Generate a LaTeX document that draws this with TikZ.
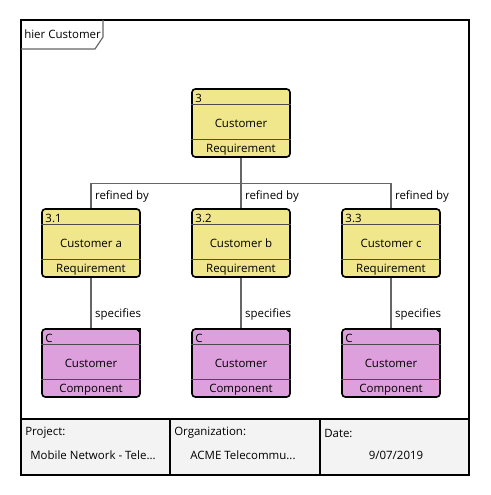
\documentclass[tikz,border=0pt]{standalone}
\usepackage{fontspec}
\setmainfont{Open Sans}
\usetikzlibrary{positioning}
\definecolor{reqyellow}{HTML}{F0E68C}
\definecolor{compplum}{HTML}{DDA0DD}
\definecolor{footgray}{HTML}{F3F3F3}
\definecolor{linkgray}{HTML}{666666}
\begin{document}
\begin{tikzpicture}[x=0.75pt, y=-0.75pt, font=\fontsize{8.6}{10}\selectfont,
    elem/.style={draw, rounded corners=2.5pt, line width=1.2pt, minimum width=73.5pt, minimum height=51pt, inner sep=0pt},
    req/.style={elem, fill=reqyellow},
    comp/.style={elem, fill=compplum},
    sep/.style={draw=black!70, line width=0.9pt},
    link/.style={draw=linkgray, line width=0.9pt},
    lbl/.style={inner sep=2.6pt}]
    \useasboundingbox (0,0) rectangle (490,495);
    % frame and footer
    \fill[footgray] (21,419) rectangle (469,475);
    \draw[line width=1.5pt] (21,20) rectangle (469,475);
    \draw[line width=1.5pt] (21,419) -- (469,419);
    \draw[line width=1.5pt] (170,419) -- (170,475);
    \draw[line width=1.5pt] (320,419) -- (320,475);
    \node[anchor=west, inner sep=0pt] (fproj) at (25,433) {Project:};
    \node[inner sep=0pt] (fprojv) at (93,455) {Mobile Network - Tele...};
    \node[anchor=west, inner sep=0pt] (forg) at (174,433) {Organization:};
    \node[inner sep=0pt] (forgv) at (243,455) {ACME Telecommu...};
    \node[anchor=west, inner sep=0pt] (fdate) at (324,433) {Date:};
    \node[inner sep=0pt] (fdatev) at (396,455) {9/07/2019};
    % diagram tab
    \draw[draw=linkgray, line width=0.9pt] (21,49) -- (95,49) -- (103,37) -- (103,20);
    \node[anchor=west, inner sep=0pt] (title) at (24,34) {hier Customer};
    % top requirement
    \node[req] (r3) at (241,123) {};
    \draw[sep] ([yshift=-12pt]r3.north west) -- ([yshift=-12pt]r3.north east);
    \draw[sep] ([yshift=13.5pt]r3.south west) -- ([yshift=13.5pt]r3.south east);
    \node[anchor=west, inner sep=0pt] (r3id) at ([xshift=3pt, yshift=-7.6pt]r3.north west) {3};
    \node[inner sep=0pt] (r3nm) at (r3.center) {Customer};
    \node[inner sep=0pt] (r3ty) at ([yshift=6.2pt]r3.south) {Requirement};
    % child requirements and components
    \foreach \n/\c/\x/\id/\nm in {r31/c1/91/3.1/Customer a, r32/c2/241/3.2/Customer b, r33/c3/391/3.3/Customer c} {
        \node[req] (\n) at (\x,243) {};
        \draw[sep] ([yshift=-12pt]\n.north west) -- ([yshift=-12pt]\n.north east);
        \draw[sep] ([yshift=13.5pt]\n.south west) -- ([yshift=13.5pt]\n.south east);
        \node[anchor=west, inner sep=0pt] (\n id) at ([xshift=3pt, yshift=-7.6pt]\n.north west) {\id};
        \node[inner sep=0pt] (\n nm) at (\n.center) {\nm};
        \node[inner sep=0pt] (\n ty) at ([yshift=6.2pt]\n.south) {Requirement};
        \node[comp] (\c) at (\x,363) {};
        \draw[sep] ([yshift=-12pt]\c.north west) -- ([yshift=-12pt]\c.north east);
        \draw[sep] ([yshift=13.5pt]\c.south west) -- ([yshift=13.5pt]\c.south east);
        \fill ([xshift=-4.5pt]\c.north east) -- (\c.north east) -- ([yshift=-4.5pt]\c.north east) -- cycle;
        \node[anchor=west, inner sep=0pt] (\c id) at ([xshift=3pt, yshift=-7.6pt]\c.north west) {C};
        \node[inner sep=0pt] (\c nm) at (\c.center) {Customer};
        \node[inner sep=0pt] (\c ty) at ([yshift=6.2pt]\c.south) {Component};
        % links
        \draw[link] (r3.south) -- ++(0,26) -| node[lbl, right, pos=0.75] (\n lbl) {refined by} (\n.north);
        \draw[link] (\n.south) -- node[lbl, right, pos=0.73] (\c lbl) {specifies} (\c.north);
    }
\end{tikzpicture}
\end{document}
